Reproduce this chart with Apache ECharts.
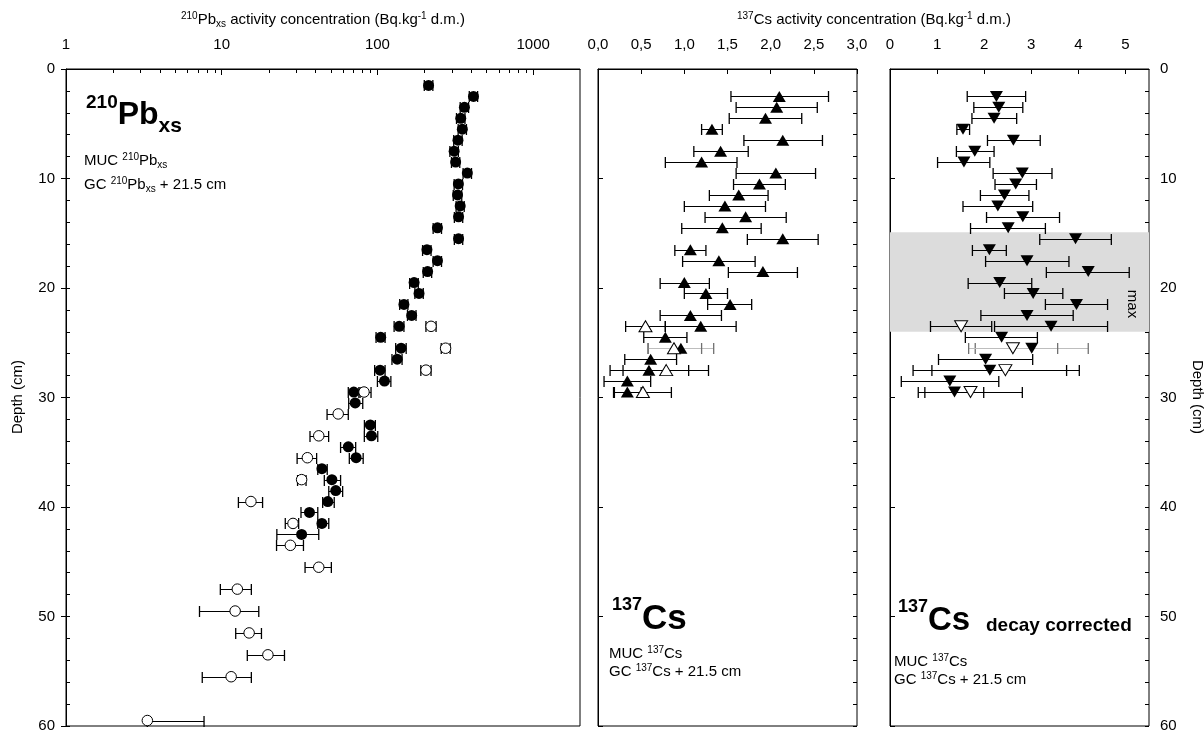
<!DOCTYPE html>
<html><head><meta charset="utf-8">
<script src="https://cdn.jsdelivr.net/npm/echarts@6/dist/echarts.min.js"></script>
<style>html,body{margin:0;padding:0;background:#fff}#c{width:1204px;height:730px}</style>
</head><body><div id="c"></div>
<script>
// ---------- data ----------
const depthTickLabels = ['0','10','20','30','40','50','60'];
const pbTickLabels = ['1','10','100','1000'];
const csTickLabels = ['0,0','0,5','1,0','1,5','2,0','2,5','3,0'];
const dcTickLabels = ['0','1','2','3','4','5'];
const pbMinorTicks = [2,3,4,5,6,7,8,9,20,30,40,50,60,70,80,90,200,300,400,500,600,700,800,900];

// [depth, value, low, high]
const pbFilled = [
  [1.5,213,200,227],[2.5,414,389,440],[3.5,362,340,385],[4.5,343,322,365],[5.5,351,330,373],
  [6.5,329,309,350],[7.5,311,292,331],[8.5,318,299,338],[9.5,378,355,402],[10.5,331,311,352],
  [11.5,327,307,348],[12.5,340,320,361],[13.5,332,312,353],[14.5,243,228,258],[15.5,332,312,353],
  [16.5,208,195,221],[17.5,243,228,258],[18.5,210,197,223],[19.5,172,161,183],[20.5,185,174,197],
  [21.5,148,139,157],[22.5,166,156,177],[23.5,138,128,148],[24.5,105,98,112],[25.5,142,131,153],
  [26.5,134,124,144],[27.5,104,96,112],[28.5,111,100,122],[29.5,70.5,65,76],[30.5,72,65.4,80.5],
  [32.5,90,82.5,97],[33.5,91.5,82.4,100.5],[34.5,65,58,72.5],[35.5,73,66,81],[36.5,44,41.4,47.6],
  [37.5,51,45.6,58],[38.5,54,48.7,59.8],[39.5,48,44.5,52.8],[40.5,36.6,32.3,41.4],[41.5,44,41.4,48.7],
  [42.5,32.6,22.6,42]
];
const pbOpen = [
  [23.5,221,205,238],[25.5,274,257,293],[27.5,205,190,221],[29.5,82,77.4,91],[31.5,56,47.5,65],
  [33.5,42,36.9,48.6],[35.5,35.5,30.5,40.7],[37.5,32.6,30.7,34.8],[39.5,15.4,12.8,18.3],
  [41.5,28.7,25.6,31.2],[43.5,27.6,22.5,33.5],[45.5,42,34.3,50.6],[47.5,12.6,9.8,15.5],
  [49.5,12.2,7.2,17.3],[51.5,15,12.3,18],[53.5,19.8,14.6,25.3],[55.5,11.5,7.5,15.5],[59.5,3.33,3.33,7.7]
];
const csFilled = [
  [2.5,2.10,1.54,2.67],[3.5,2.07,1.60,2.54],[4.5,1.94,1.52,2.36],[5.5,1.32,1.20,1.44],
  [6.5,2.14,1.69,2.60],[7.5,1.42,1.11,1.74],[8.5,1.20,0.78,1.61],[9.5,2.06,1.60,2.52],
  [10.5,1.87,1.57,2.17],[11.5,1.63,1.29,1.97],[12.5,1.47,1.00,1.94],[13.5,1.71,1.24,2.18],
  [14.5,1.44,0.97,1.89],[15.5,2.14,1.73,2.55],[16.5,1.07,0.89,1.25],[17.5,1.40,0.98,1.82],
  [18.5,1.91,1.51,2.31],[19.5,1.00,0.72,1.29],[20.5,1.25,1.00,1.50],[21.5,1.53,1.27,1.78],
  [22.5,1.07,0.72,1.43],[23.5,1.19,0.78,1.60],[24.5,0.78,0.53,1.03],[25.5,0.96,0.58,1.34],
  [26.5,0.61,0.31,0.91],[27.5,0.59,0.14,1.05],[28.5,0.34,0.07,0.61],[29.5,0.34,0.18,0.50]
];
const csOpen = [
  [23.5,0.55,0.32,0.78],[25.5,0.88,0.58,1.20],[27.5,0.79,0.29,1.28],[29.5,0.52,0.19,0.85]
];
const dcFilled = [
  [2.5,2.26,1.64,2.88],[3.5,2.31,1.78,2.82],[4.5,2.21,1.74,2.69],[5.5,1.55,1.42,1.69],
  [6.5,2.62,2.07,3.19],[7.5,1.80,1.41,2.21],[8.5,1.57,1.01,2.12],[9.5,2.81,2.19,3.44],
  [10.5,2.67,2.23,3.11],[11.5,2.43,1.92,2.95],[12.5,2.29,1.55,3.03],[13.5,2.82,2.05,3.60],
  [14.5,2.51,1.71,3.30],[15.5,3.94,3.18,4.70],[16.5,2.11,1.75,2.47],[17.5,2.91,2.03,3.80],
  [18.5,4.21,3.32,5.08],[19.5,2.33,1.66,3.01],[20.5,3.04,2.43,3.67],[21.5,3.96,3.30,4.62],
  [22.5,2.91,1.93,3.89],[23.5,3.42,2.22,4.62],[24.5,2.37,1.60,3.13],[25.5,3.01,1.81,4.21],
  [26.5,2.03,1.03,3.03],[27.5,2.12,0.49,3.75],[28.5,1.27,0.24,2.31],[29.5,1.37,0.74,1.99]
];
const dcOpen = [
  [23.5,1.51,0.86,2.16],[25.5,2.61,1.67,3.56],[27.5,2.45,0.89,4.02],[29.5,1.71,0.60,2.81]
];
const maxBand = [14.9, 24];
const grayRowDepth = 25.5;

// ---------- chart ----------
const FF = "'Liberation Sans', Arial, sans-serif";
const chart = echarts.init(document.getElementById('c'), null, {renderer: 'canvas'});

function errRender(grayDepth) {
  return function (params, api) {
    const d = api.value(2);
    const a = api.coord([api.value(0), d]);
    const b = api.coord([api.value(1), d]);
    const g = grayDepth !== null && Math.abs(d - grayDepth) < 0.01;
    const lc = g ? '#bdbdbd' : '#000';
    const cc = g ? '#707070' : '#000';
    const h = 5.5;
    const y = Math.round(a[1]) + 0.5;
    return {type: 'group', children: [
      {type: 'line', shape: {x1: a[0], y1: y, x2: b[0], y2: y}, style: {stroke: lc, lineWidth: 1}},
      {type: 'line', shape: {x1: a[0], y1: y - h, x2: a[0], y2: y + h}, style: {stroke: cc, lineWidth: 1.3}},
      {type: 'line', shape: {x1: b[0], y1: y - h, x2: b[0], y2: y + h}, style: {stroke: cc, lineWidth: 1.3}}
    ]};
  };
}
const toErr = rows => rows.map(r => [r[2], r[3], r[0]]);
const toPt = rows => rows.map(r => [r[1], r[0]]);

function yAxes(gi, pos, labels) {
  return [
    {gridIndex: gi, type: 'value', inverse: true, min: 0, max: 60, interval: 10, position: pos,
     axisLine: {show: true, lineStyle: {color: '#000', width: 1}},
     axisTick: {show: true, inside: false, length: 5, lineStyle: {color: '#000'}},
     axisLabel: {show: labels, fontSize: 15, color: '#000', fontFamily: FF, margin: 11,
                 formatter: v => depthTickLabels[Math.round(v / 10)]},
     splitLine: {show: false}},
    {gridIndex: gi, type: 'value', inverse: true, min: 0, max: 60, interval: 2, position: pos,
     axisLine: {show: false}, axisTick: {show: true, inside: true, length: 4, lineStyle: {color: '#000'}},
     axisLabel: {show: false}, splitLine: {show: false}}
  ];
}

const axisLabelBase = {fontSize: 15, color: '#000', fontFamily: FF, margin: 17};
const gridBase = {top: 69, height: 657, show: true, borderColor: '#000', borderWidth: 1,
                  backgroundColor: '#fff', containLabel: false, outerBoundsMode: 'none'};

const option = {
  animation: false,
  backgroundColor: '#fff',
  grid: [
    Object.assign({left: 66, width: 514}, gridBase),
    Object.assign({left: 598, width: 259}, gridBase),
    Object.assign({left: 890, width: 259}, gridBase)
  ],
  xAxis: [
    {gridIndex: 0, type: 'log', logBase: 10, min: 1, max: 2000, position: 'top',
     axisLine: {show: true, lineStyle: {color: '#000'}},
     axisTick: {show: true, inside: true, length: 6, lineStyle: {color: '#000'}},
     axisLabel: Object.assign({}, axisLabelBase, {showMaxLabel: false,
       formatter: v => pbTickLabels[Math.round(Math.log10(v))] || ''}),
     splitLine: {show: false}},
    {gridIndex: 1, type: 'value', min: 0, max: 3, interval: 0.5, position: 'top',
     axisLine: {show: true, lineStyle: {color: '#000'}},
     axisTick: {show: true, inside: true, length: 5, lineStyle: {color: '#000'}},
     axisLabel: Object.assign({}, axisLabelBase, {formatter: v => csTickLabels[Math.round(v * 2)]}),
     splitLine: {show: false}},
    {gridIndex: 2, type: 'value', min: 0, max: 5.5, interval: 1, position: 'top',
     axisLine: {show: true, lineStyle: {color: '#000'}},
     axisTick: {show: true, inside: true, length: 5, lineStyle: {color: '#000'}},
     axisLabel: Object.assign({}, axisLabelBase, {showMaxLabel: false,
       formatter: v => dcTickLabels[Math.round(v)] || ''}),
     splitLine: {show: false}}
  ],
  yAxis: [].concat(yAxes(0, 'left', true), yAxes(1, 'right', false), yAxes(2, 'right', true)),
  series: [
    {type: 'scatter', xAxisIndex: 2, yAxisIndex: 4, data: [], z: 1, silent: true,
     markArea: {silent: true, itemStyle: {color: '#dcdcdc'},
       data: [[{xAxis: 0, yAxis: maxBand[0]}, {xAxis: 5.5, yAxis: maxBand[1]}]]}},
    {type: 'custom', xAxisIndex: 0, yAxisIndex: 0, z: 3, silent: true, clip: false,
     data: pbMinorTicks.map(v => [v, 0]), encode: {x: 0, y: 1},
     renderItem: (p, api) => {
       const c = api.coord([api.value(0), 0]);
       const x = Math.round(c[0]) + 0.5;
       return {type: 'line', shape: {x1: x, y1: c[1], x2: x, y2: c[1] + 4}, style: {stroke: '#000', lineWidth: 1}};
     }},
    {type: 'custom', xAxisIndex: 0, yAxisIndex: 0, z: 4, clip: false, silent: true,
     data: toErr(pbFilled.concat(pbOpen)), encode: {x: [0, 1], y: 2}, renderItem: errRender(null)},
    {type: 'custom', xAxisIndex: 1, yAxisIndex: 2, z: 4, clip: false, silent: true,
     data: toErr(csFilled.concat(csOpen)), encode: {x: [0, 1], y: 2}, renderItem: errRender(grayRowDepth)},
    {type: 'custom', xAxisIndex: 2, yAxisIndex: 4, z: 4, clip: false, silent: true,
     data: toErr(dcFilled.concat(dcOpen)), encode: {x: [0, 1], y: 2}, renderItem: errRender(grayRowDepth)},
    {type: 'scatter', xAxisIndex: 0, yAxisIndex: 0, z: 6, data: toPt(pbFilled), symbol: 'circle', symbolSize: 11,
     itemStyle: {color: '#000', opacity: 1}},
    {type: 'scatter', xAxisIndex: 0, yAxisIndex: 0, z: 6, data: toPt(pbOpen), symbol: 'circle', symbolSize: 10.5,
     itemStyle: {color: '#fff', borderColor: '#000', borderWidth: 1, opacity: 1}},
    {type: 'scatter', xAxisIndex: 1, yAxisIndex: 2, z: 6, data: toPt(csFilled), symbol: 'triangle', symbolSize: [13, 11],
     itemStyle: {color: '#000', opacity: 1}},
    {type: 'scatter', xAxisIndex: 1, yAxisIndex: 2, z: 6, data: toPt(csOpen), symbol: 'triangle', symbolSize: [13, 11],
     itemStyle: {color: '#fff', borderColor: '#000', borderWidth: 1, opacity: 1}},
    {type: 'scatter', xAxisIndex: 2, yAxisIndex: 4, z: 6, data: toPt(dcFilled), symbol: 'triangle', symbolRotate: 180, symbolSize: [13, 11],
     itemStyle: {color: '#000', opacity: 1}},
    {type: 'scatter', xAxisIndex: 2, yAxisIndex: 4, z: 6, data: toPt(dcOpen), symbol: 'triangle', symbolRotate: 180, symbolSize: [13, 11],
     itemStyle: {color: '#fff', borderColor: '#000', borderWidth: 1, opacity: 1}}
  ],
  graphic: []
};

const smallRich = {
  s: {fontSize: 10, lineHeight: 10, fontFamily: FF, fill: '#000', verticalAlign: 'top'},
  u: {fontSize: 10, lineHeight: 10, fontFamily: FF, fill: '#000', verticalAlign: 'bottom'}
};
function smallText(x, top, text, align) {
  return {type: 'text', x: x, y: top, z: 100, silent: true,
    style: {text: text, fontSize: 15, lineHeight: 18, fontFamily: FF, fill: '#000',
            align: align || 'left', verticalAlign: 'top', rich: smallRich}};
}
function bigText(x, top, text, bigSize, supSize, subSize) {
  return {type: 'text', x: x, y: top, z: 100, silent: true,
    style: {text: text, fontSize: bigSize, lineHeight: bigSize + 12, fontWeight: 'bold', fontFamily: FF, fill: '#000',
      align: 'left', verticalAlign: 'top',
      rich: {
        s: {fontSize: supSize, lineHeight: supSize, fontWeight: 'bold', fontFamily: FF, fill: '#000', verticalAlign: 'top'},
        u: {fontSize: subSize, lineHeight: subSize, fontWeight: 'bold', fontFamily: FF, fill: '#000', verticalAlign: 'bottom'}
      }}};
}
function rotText(x, y, text, rot) {
  return {type: 'text', x: x, y: y, rotation: rot, z: 100, silent: true,
    style: {text: text, fontSize: 15, fontFamily: FF, fill: '#000', align: 'center', verticalAlign: 'middle'}};
}

option.graphic = [
  smallText(323, 11, '{s|210}Pb{u|xs} activity concentration (Bq.kg{s|-1} d.m.)', 'center'),
  smallText(874, 11, '{s|137}Cs activity concentration (Bq.kg{s|-1} d.m.)', 'center'),
  rotText(18, 397, 'Depth (cm)', Math.PI / 2),
  rotText(1197, 397, 'Depth (cm)', -Math.PI / 2),
  rotText(1132, 304, 'max', -Math.PI / 2),
  bigText(86, 93, '{s|210}Pb{u|xs}', 32, 19, 21),
  bigText(612, 596, '{s|137}Cs', 35, 18, 18),
  bigText(898, 598, '{s|137}Cs', 33, 18, 18),
  {type: 'text', x: 986, y: 625.4, z: 100, silent: true,
   style: {text: 'decay corrected', fontSize: 19, fontWeight: 'bold', fontFamily: FF, fill: '#000', align: 'left', verticalAlign: 'middle'}},
  smallText(84, 152, 'MUC {s|210}Pb{u|xs}'),
  smallText(84, 176, 'GC {s|210}Pb{u|xs} + 21.5 cm'),
  smallText(609, 645, 'MUC {s|137}Cs'),
  smallText(609, 663, 'GC {s|137}Cs + 21.5 cm'),
  smallText(894, 653, 'MUC {s|137}Cs'),
  smallText(894, 671, 'GC {s|137}Cs + 21.5 cm')
];

chart.setOption(option);
</script>
</body></html>
